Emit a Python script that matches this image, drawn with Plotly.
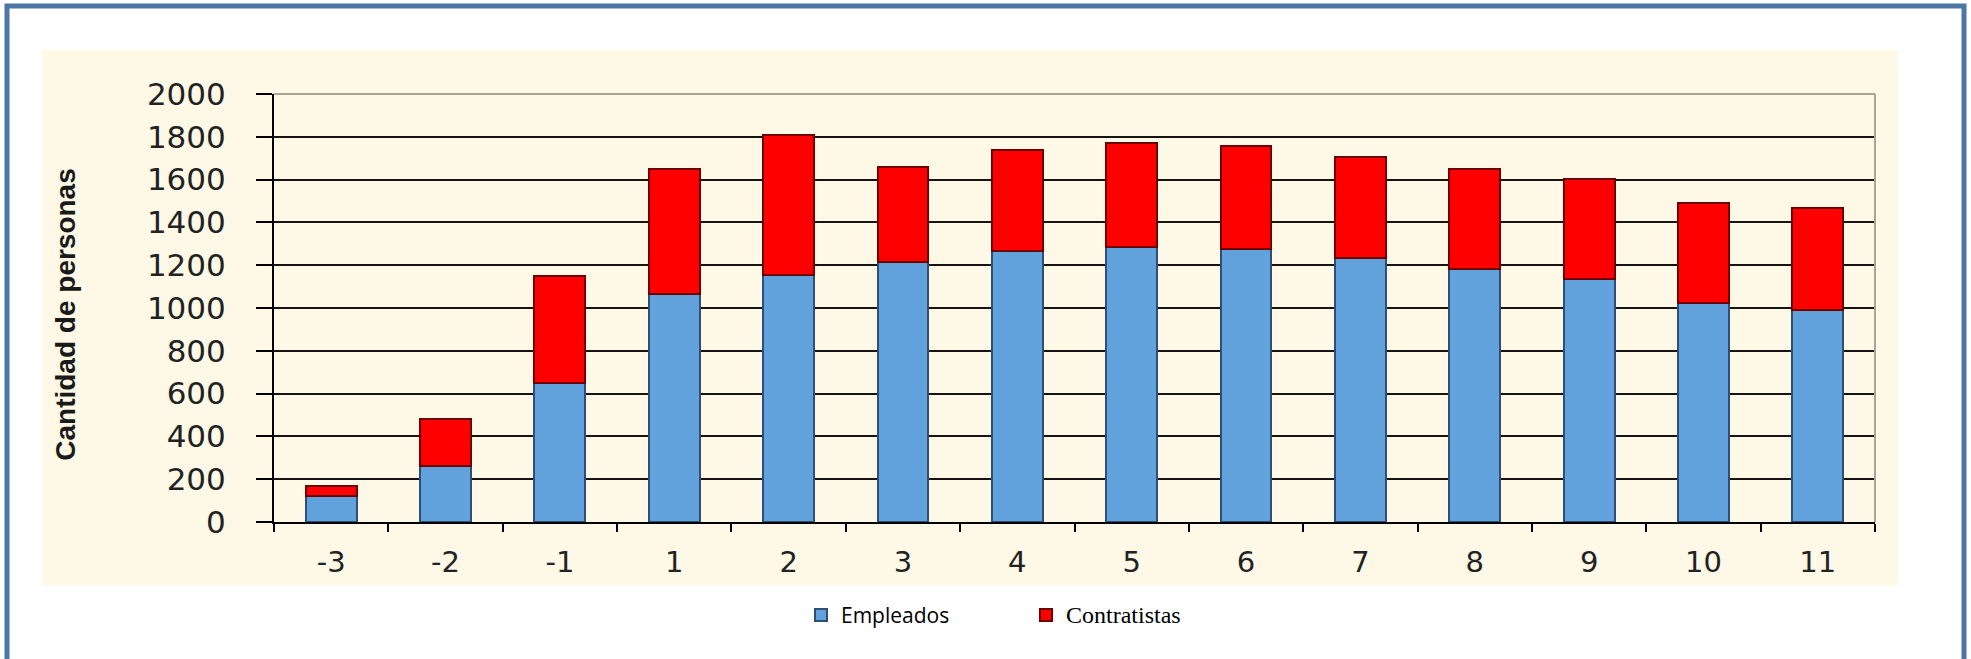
import plotly.graph_objects as go

# ---- data ----
categories = ["-3", "-2", "-1", "1", "2", "3", "4", "5", "6", "7", "8", "9", "10", "11"]
empleados = [120, 260, 650, 1065, 1155, 1215, 1265, 1285, 1275, 1235, 1180, 1135, 1025, 990]
contratistas = [50, 220, 500, 585, 655, 445, 475, 485, 480, 470, 470, 470, 465, 475]
y_ticks = [0, 200, 400, 600, 800, 1000, 1200, 1400, 1600, 1800, 2000]

W, H = 1971, 659
PL, PR, PT, PB = 274, 1875, 94, 522.5


def fx(px):
    return (px - PL) / (PR - PL)


def fy(py):
    return (PB - py) / (PB - PT)


fig = go.Figure()
fig.add_trace(go.Bar(
    x=categories, y=empleados, name="Empleados",
    marker=dict(color="#62A2DC", line=dict(color="#2E4E72", width=2)),
))
fig.add_trace(go.Bar(
    x=categories, y=contratistas,
    name='<span style="font-family:Liberation Serif, Times New Roman, serif;font-size:24px">Contratistas</span>',
    marker=dict(color="#FF0000", line=dict(color="#6E0000", width=2)),
))

shapes = [
    # cream chart area
    dict(type="rect", xref="paper", yref="paper", x0=fx(42), x1=fx(1898), y0=fy(586), y1=fy(50),
         fillcolor="#FEF9E6", line=dict(width=0), layer="below"),
    # outer blue frame
    dict(type="rect", xref="paper", yref="paper", x0=fx(7), x1=fx(1964), y0=fy(720), y1=fy(6),
         fillcolor="rgba(0,0,0,0)", line=dict(color="#4C76A6", width=5), layer="above"),
    # gray plot-area border top and right
    dict(type="line", xref="paper", yref="paper", x0=0, x1=1, y0=1, y1=1,
         line=dict(color="#A9A595", width=2), layer="above"),
    dict(type="line", xref="paper", yref="paper", x0=1, x1=1, y0=0, y1=1,
         line=dict(color="#A9A595", width=2), layer="above"),
]

fig.update_layout(
    width=W, height=H,
    margin=dict(l=PL, r=W - PR, t=PT, b=H - PB),
    paper_bgcolor="white",
    plot_bgcolor="#FEF9E6",
    barmode="stack",
    bargap=0.555,
    showlegend=True,
    legend=dict(orientation="h", x=fx(801), xanchor="left", y=fy(616), yanchor="middle",
                font=dict(family="Open Sans, Noto Sans, sans-serif", size=21, color="black"),
                traceorder="normal", entrywidth=180, bgcolor="rgba(0,0,0,0)"),
    shapes=shapes,
    xaxis=dict(type="category", showline=True, linecolor="black", linewidth=2,
               ticks="outside", tickson="boundaries", ticklen=8, tickwidth=2, tickcolor="black",
               showgrid=False, ticklabelstandoff=13,
               tickfont=dict(family="DejaVu Sans, sans-serif", size=29, color="#222")),
    yaxis=dict(range=[0, 2000], tickvals=y_ticks, showgrid=True, gridcolor="#141414", gridwidth=1.6,
               showline=True, linecolor="black", linewidth=2, zeroline=False,
               ticks="outside", ticklen=16, tickwidth=1.6, tickcolor="black",
               ticklabelstandoff=24,
               tickfont=dict(family="DejaVu Sans, sans-serif", size=31, color="#222")),
    annotations=[dict(
        text="<b>Cantidad de personas</b>", textangle=-90,
        xref="paper", yref="paper", x=fx(66), y=fy(315), xanchor="center", yanchor="middle",
        showarrow=False,
        font=dict(family="Liberation Sans, Arial, sans-serif", size=28, color="#1a1a1a"),
    )],
)

fig.write_html(
    "out.html",
    config={"displayModeBar": False},
    post_script="document.body.style.margin='0px';document.body.style.overflow='hidden';"
                "document.documentElement.style.overflow='hidden';",
)
